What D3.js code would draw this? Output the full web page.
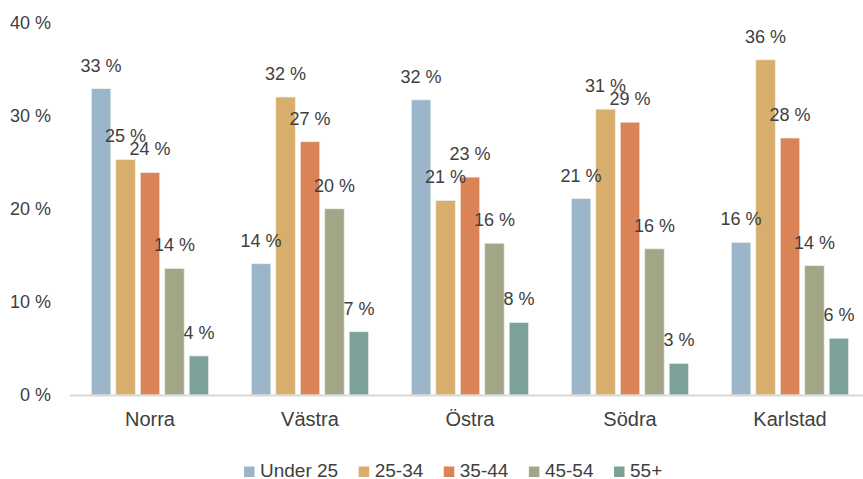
<!DOCTYPE html>
<meta charset="utf-8">
<html>
<head>
    <title>Åldersfördelning per område</title>
    <style>
        body { margin: 0; background: #fff; }
        text { font-family: "Liberation Sans", Arial, sans-serif; fill: #404040; }
    </style>
    <script src="https://d3js.org/d3.v7.min.js"></script>
</head>
<body>
    <div id="chart"></div>
    <script>
        // areas and age groups
        var areas = ["Norra", "Västra", "Östra", "Södra", "Karlstad"];
        var ageGroups = ["Under 25", "25-34", "35-44", "45-54", "55+"];

        // share per age group, one array per area (percent)
        var norra = [32.9, 25.3, 23.9, 13.6, 4.2];
        var vastra = [14.1, 32.0, 27.2, 20.0, 6.8];
        var ostra = [31.7, 20.9, 23.4, 16.3, 7.8];
        var sodra = [21.1, 30.7, 29.3, 15.7, 3.4];
        var karlstad = [16.4, 36.0, 27.6, 13.9, 6.1];

        var yTicks = [0, 10, 20, 30, 40];
        var colors = ["#9bb5cb", "#d8ae6c", "#d98356", "#a3a686", "#7ba198"];

        var values = [norra, vastra, ostra, sodra, karlstad];

        var width = 863, height = 479;
        var margin = { top: 22, right: -7, bottom: 84, left: 70 };

        var svg = d3.select("#chart").append("svg")
            .attr("width", width)
            .attr("height", height);

        var x0 = d3.scaleBand()
            .domain(areas)
            .range([margin.left, width - margin.right]);

        var x1 = d3.scaleBand()
            .domain(ageGroups)
            .range([21.3, x0.bandwidth() - 21.3])
            .paddingInner(0.2);

        var y = d3.scaleLinear()
            .domain([0, 40])
            .range([height - margin.bottom, margin.top + 0.5]);

        // y tick labels
        svg.append("g")
            .selectAll("text")
            .data(yTicks)
            .enter().append("text")
            .attr("x", 51)
            .attr("y", function (d) { return y(d); })
            .attr("dy", "0.35em")
            .attr("text-anchor", "end")
            .style("font-size", "18px")
            .text(function (d) { return d + " %"; });

        // bar groups
        var groups = svg.append("g")
            .selectAll("g")
            .data(areas)
            .enter().append("g")
            .attr("transform", function (d) { return "translate(" + x0(d) + ",0)"; });

        groups.selectAll("rect")
            .data(function (d, i) {
                return ageGroups.map(function (g, j) { return { group: g, value: values[i][j], idx: j }; });
            })
            .enter().append("rect")
            .attr("x", function (d) { return x1(d.group); })
            .attr("y", function (d) { return y(d.value); })
            .attr("width", x1.bandwidth())
            .attr("height", function (d) { return y(0) - y(d.value); })
            .attr("fill", function (d) { return colors[d.idx]; })
            .attr("stroke", "#eef2ee")
            .attr("stroke-width", 0.8);

        // x axis line
        svg.append("line")
            .attr("x1", margin.left)
            .attr("x2", width)
            .attr("y1", y(0) + 0.5)
            .attr("y2", y(0) + 0.5)
            .attr("stroke", "#d9d9d9")
            .attr("stroke-width", 2);

        // value labels
        groups.selectAll("text.val")
            .data(function (d, i) {
                return ageGroups.map(function (g, j) { return { group: g, value: values[i][j] }; });
            })
            .enter().append("text")
            .attr("class", "val")
            .attr("x", function (d) { return x1(d.group) + x1.bandwidth() / 2; })
            .attr("y", function (d) { return y(d.value) - 17; })
            .attr("text-anchor", "middle")
            .style("font-size", "18px")
            .text(function (d) { return Math.round(d.value) + " %"; });

        // category labels
        svg.append("g")
            .selectAll("text")
            .data(areas)
            .enter().append("text")
            .attr("x", function (d) { return x0(d) + x0.bandwidth() / 2; })
            .attr("y", 426)
            .attr("text-anchor", "middle")
            .style("font-size", "20px")
            .text(function (d) { return d; });

        // legend
        var legend = svg.append("g").attr("transform", "translate(244,466.5)");
        var lx = 0;
        ageGroups.forEach(function (g, i) {
            var item = legend.append("g").attr("transform", "translate(" + lx + ",0)");
            item.append("rect")
                .attr("width", 10.5)
                .attr("height", 10.5)
                .attr("fill", colors[i]);
            var t = item.append("text")
                .attr("x", 16)
                .attr("y", 10.5)
                .style("font-size", "19px")
                .text(g);
            lx += 16 + t.node().getComputedTextLength() + 20.5;
        });
    </script>
</body>
</html>
